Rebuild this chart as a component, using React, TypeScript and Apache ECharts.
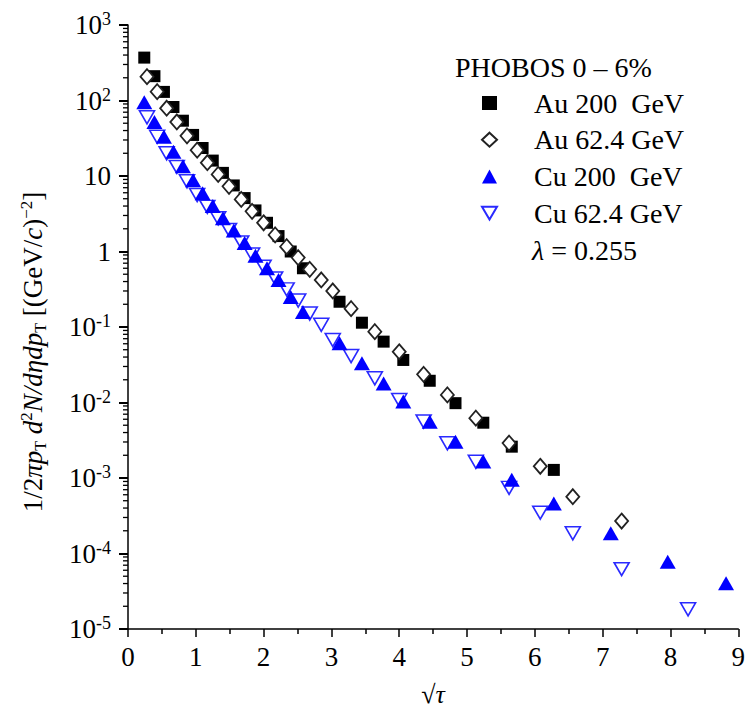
import React, { useEffect, useRef } from 'react';
import * as echarts from 'echarts';

// sqrt(tau) positions (shared by the same collision energy)
const X_200 = [0.24, 0.39, 0.53, 0.67, 0.81, 0.96, 1.10, 1.25, 1.40, 1.56, 1.72, 1.88, 2.05, 2.22, 2.40, 2.58, 3.12, 3.45, 3.77, 4.06, 4.45, 4.83, 5.24, 5.66, 6.28, 7.12, 7.96, 8.82];
const X_62 = [0.28, 0.43, 0.57, 0.72, 0.87, 1.02, 1.17, 1.33, 1.49, 1.67, 1.83, 2.00, 2.17, 2.34, 2.51, 2.68, 2.85, 3.02, 3.29, 3.64, 4.00, 4.36, 4.71, 5.13, 5.62, 6.08, 6.56, 7.28, 8.26];

const AU_200 = [370, 210, 130, 82, 54, 35, 23.5, 16, 11, 7.5, 5.1, 3.5, 2.4, 1.6, 1.0, 0.60, 0.216, 0.114, 0.064, 0.0366, 0.0194, 0.0098, 0.0054, 0.0026, 0.00128];
const AU_62 = [207, 131, 79, 52, 34, 22, 15, 10.5, 7.3, 4.9, 3.4, 2.4, 1.66, 1.16, 0.83, 0.58, 0.42, 0.30, 0.175, 0.0867, 0.047, 0.0236, 0.0126, 0.0062, 0.0029, 0.00143, 0.000565, 0.000269];
const CU_200 = [95, 52, 33, 21, 13.5, 8.8, 5.9, 4.0, 2.75, 1.9, 1.3, 0.88, 0.6, 0.42, 0.25, 0.158, 0.061, 0.033, 0.0179, 0.0103, 0.00557, 0.00303, 0.00166, 0.00095, 0.00046, 0.000185, 0.0000778, 0.0000403];
const CU_62 = [60, 33, 20, 13.2, 8.5, 5.6, 3.9, 2.75, 1.93, 1.32, 0.91, 0.63, 0.44, 0.315, 0.224, 0.151, 0.107, 0.0673, 0.0413, 0.0209, 0.0108, 0.0056, 0.00288, 0.00164, 0.00074, 0.000347, 0.000185, 0.000062, 0.0000182];

const SERIES_NAMES = ['Au 200  GeV', 'Au 62.4 GeV', 'Cu 200  GeV', 'Cu 62.4 GeV'];
const DECADES = [1e-5, 1e-4, 1e-3, 1e-2, 1e-1, 1, 10, 100];
const MINOR_MULTS = [2, 3, 4, 5, 6, 7, 8, 9];

const FONT = '"Liberation Serif", "Times New Roman", serif';
const DOWN_TRIANGLE = 'path://M0,0 L20,0 L10,17 Z';

const pairs = (xs: number[], ys: number[]) => ys.map((y, i) => [xs[i], y]);

export default function App() {
  const ref = useRef<HTMLDivElement>(null);
  useEffect(() => {
    const chart = echarts.init(ref.current!, null, { renderer: 'svg' });
    const minorTicks: number[][] = [];
    DECADES.forEach((d) => MINOR_MULTS.forEach((m) => minorTicks.push([0, d * m])));

    const option: any = {
      animation: false,
      backgroundColor: '#fff',
      grid: { left: 128, right: 8, top: 25, bottom: 84, containLabel: false },
      xAxis: {
        type: 'value',
        min: 0,
        max: 9,
        interval: 1,
        name: '{n|√}{i|τ}',
        nameLocation: 'middle',
        nameGap: 52,
        nameTextStyle: {
          rich: {
            n: { fontFamily: FONT, fontSize: 26, color: '#000' },
            i: { fontFamily: FONT, fontSize: 26, fontStyle: 'italic', color: '#000' },
          },
        },
        axisLine: { lineStyle: { color: '#000', width: 1.5 } },
        axisTick: { length: 8, lineStyle: { color: '#000', width: 1.5 } },
        minorTick: { show: true, splitNumber: 2, length: 5, lineStyle: { color: '#000', width: 1.5 } },
        splitLine: { show: false },
        axisLabel: { fontFamily: FONT, fontSize: 27, color: '#000', margin: 14 },
      },
      yAxis: {
        type: 'log',
        logBase: 10,
        min: 1e-5,
        max: 1e3,
        splitNumber: 8,
        axisLine: { show: true, lineStyle: { color: '#000', width: 1.5 } },
        axisTick: { show: true, length: 9, lineStyle: { color: '#000', width: 2 } },
        splitLine: { show: false },
        axisLabel: {
          margin: 17,
          formatter: (v: number) => {
            const e = Math.round(Math.log10(v));
            if (e === 0) return '{b|1}';
            if (e === 1) return '{b|10}';
            return '{b|10}{s|' + e + '}';
          },
          rich: {
            b: { fontFamily: FONT, fontSize: 27, color: '#000', lineHeight: 30 },
            s: { fontFamily: FONT, fontSize: 18, color: '#000', lineHeight: 18, verticalAlign: 'top' },
          },
        },
      },
      legend: {
        data: SERIES_NAMES,
        orient: 'vertical',
        left: 481,
        top: 88,
        padding: 0,
        itemWidth: 15,
        itemHeight: 14,
        itemGap: 6.7,
        selectedMode: false,
        textStyle: { fontFamily: FONT, fontSize: 28, color: '#000', lineHeight: 30, padding: [0, 0, 0, 32] },
      },
      graphic: [
        {
          type: 'text',
          left: 455,
          top: 53,
          style: { text: 'PHOBOS 0 – 6%', font: '28px ' + FONT, fill: '#000' },
        },
        {
          type: 'text',
          left: 532,
          top: 236,
          style: {
            text: '{i|λ}{n| = 0.255}',
            rich: {
              i: { fontFamily: FONT, fontSize: 28, fontStyle: 'italic', fill: '#000' },
              n: { fontFamily: FONT, fontSize: 28, fill: '#000' },
            },
          },
        },
        {
          type: 'text',
          x: 33,
          y: 352,
          rotation: Math.PI / 2,
          style: {
            text: '{n|1/2}{i|πp}{sub|T}{i| d}{sup|2}{i|N/dηdp}{sub|T}{n| [(GeV/}{i|c}{n|)}{sup|−2}{n|]}',
            align: 'center',
            verticalAlign: 'middle',
            rich: {
              n: { fontFamily: FONT, fontSize: 27, fill: '#000', lineHeight: 30 },
              i: { fontFamily: FONT, fontSize: 27, fontStyle: 'italic', fill: '#000', lineHeight: 30 },
              sub: { fontFamily: FONT, fontSize: 16, fill: '#000', lineHeight: 18, verticalAlign: 'bottom' },
              sup: { fontFamily: FONT, fontSize: 17, fill: '#000', lineHeight: 18, verticalAlign: 'top' },
            },
          },
        },
      ],
      series: [
        {
          name: SERIES_NAMES[0],
          type: 'scatter',
          symbol: 'rect',
          symbolSize: 12,
          itemStyle: { color: '#000', opacity: 1 },
          data: pairs(X_200, AU_200),
        },
        {
          name: SERIES_NAMES[1],
          type: 'scatter',
          symbol: 'diamond',
          symbolSize: [13, 15],
          itemStyle: { color: '#fff', borderColor: '#222', borderWidth: 1.8, opacity: 1 },
          data: pairs(X_62, AU_62),
        },
        {
          name: SERIES_NAMES[3],
          type: 'scatter',
          symbol: DOWN_TRIANGLE,
          symbolSize: [15, 13],
          itemStyle: { color: '#fff', borderColor: '#2a2aff', borderWidth: 1.6, opacity: 1 },
          data: pairs(X_62, CU_62),
        },
        {
          name: SERIES_NAMES[2],
          type: 'scatter',
          symbol: 'triangle',
          symbolSize: [16, 14],
          itemStyle: { color: '#0000ff', opacity: 1 },
          data: pairs(X_200, CU_200),
        },
        {
          type: 'custom',
          coordinateSystem: 'cartesian2d',
          silent: true,
          clip: false,
          data: minorTicks,
          renderItem: (params: any, api: any) => {
            const p = api.coord([0, api.value(1)]);
            return {
              type: 'line',
              shape: { x1: p[0] - 5, y1: p[1], x2: p[0], y2: p[1] },
              style: { stroke: '#000', lineWidth: 1.3 },
            };
          },
        },
      ],
    };
    chart.setOption(option);
    return () => chart.dispose();
  }, []);
  return <div ref={ref} style={{ position: 'absolute', left: 0, top: 0, width: 748, height: 713 }} />;
}
